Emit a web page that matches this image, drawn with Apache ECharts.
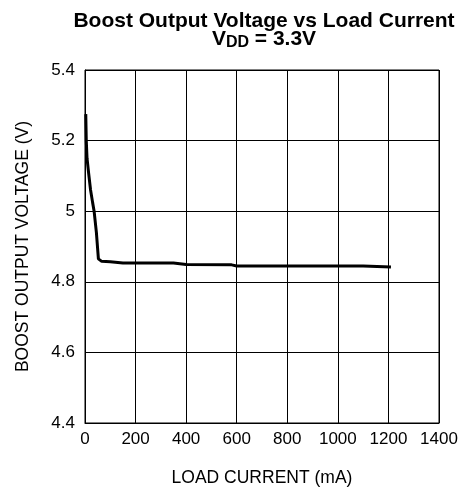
<!DOCTYPE html>
<html>
<head>
<meta charset="utf-8">
<script src="https://cdn.jsdelivr.net/npm/echarts@6/dist/echarts.min.js"></script>
<style>
html, body { margin: 0; padding: 0; background: #fff; }
#chart { width: 465px; height: 487px; }
</style>
</head>
<body>
<div id="chart"></div>
<script>
// load current (mA) vs boost output voltage (V)
var loadCurrent = [3, 5, 8, 14, 22, 30, 36, 45, 53, 66, 100, 150, 350, 400, 580, 600, 1100, 1210];
var outputVoltage = [5.275, 5.2, 5.15, 5.11, 5.06, 5.025, 5.0, 4.94, 4.865, 4.858, 4.857, 4.853, 4.853, 4.849, 4.848, 4.845, 4.845, 4.842];
var xTicks = { min: 0, max: 1400, interval: 200 };
var yTicks = { min: 4.4, max: 5.4, interval: 0.2 };

var seriesData = loadCurrent.map(function (x, i) {
    return [x, outputVoltage[i]];
});

var font = 'Liberation Sans, Arial, sans-serif';

var myChart = echarts.init(document.getElementById('chart'));
myChart.setOption({
    animation: false,
    backgroundColor: '#fff',
    title: [{
        text: 'Boost Output Voltage vs Load Current',
        left: 259,
        top: 6,
        textAlign: 'center',
        textStyle: { fontFamily: font, fontSize: 21, fontWeight: 'bold', color: '#000' }
    }, {
        text: '{b|V}{s|DD}{b| = 3.3V}',
        left: 259,
        top: 22,
        textAlign: 'center',
        textStyle: {
            rich: {
                b: { fontFamily: font, fontSize: 21, fontWeight: 'bold', color: '#000', lineHeight: 24 },
                s: { fontFamily: font, fontSize: 16, fontWeight: 'bold', color: '#000', padding: [8, 0, 0, 0], lineHeight: 24 }
            }
        }
    }],
    grid: {
        left: 85, top: 70, right: 26, bottom: 64,
        outerBoundsMode: 'none',
        containLabel: false,
        show: true, borderColor: '#000', borderWidth: 1
    },
    xAxis: {
        type: 'value',
        min: xTicks.min, max: xTicks.max, interval: xTicks.interval,
        name: 'LOAD CURRENT (mA)',
        nameLocation: 'middle',
        nameGap: 46,
        nameTextStyle: { fontFamily: font, fontSize: 17.5, color: '#000' },
        axisLine: { show: true, lineStyle: { color: '#000', width: 1 } },
        axisTick: { show: false },
        axisLabel: {
            fontFamily: font, fontSize: 17, color: '#000', margin: 8,
            formatter: function (v) { return String(v); }
        },
        splitLine: { show: true, lineStyle: { color: '#000', width: 1 } }
    },
    yAxis: {
        type: 'value',
        min: yTicks.min, max: yTicks.max, interval: yTicks.interval,
        name: 'BOOST OUTPUT VOLTAGE (V)',
        nameLocation: 'middle',
        nameGap: 53,
        nameTextStyle: { fontFamily: font, fontSize: 17.5, color: '#000' },
        axisLine: { show: true, lineStyle: { color: '#000', width: 1 } },
        axisTick: { show: false },
        axisLabel: {
            fontFamily: font, fontSize: 17, color: '#000', margin: 10,
            formatter: function (v) { return String(+v.toFixed(1)); }
        },
        splitLine: { show: true, lineStyle: { color: '#000', width: 1 } }
    },
    series: [{
        type: 'line',
        data: seriesData,
        showSymbol: false,
        lineStyle: { color: '#000', width: 3 },
        clip: true
    }]
});
</script>
</body>
</html>
